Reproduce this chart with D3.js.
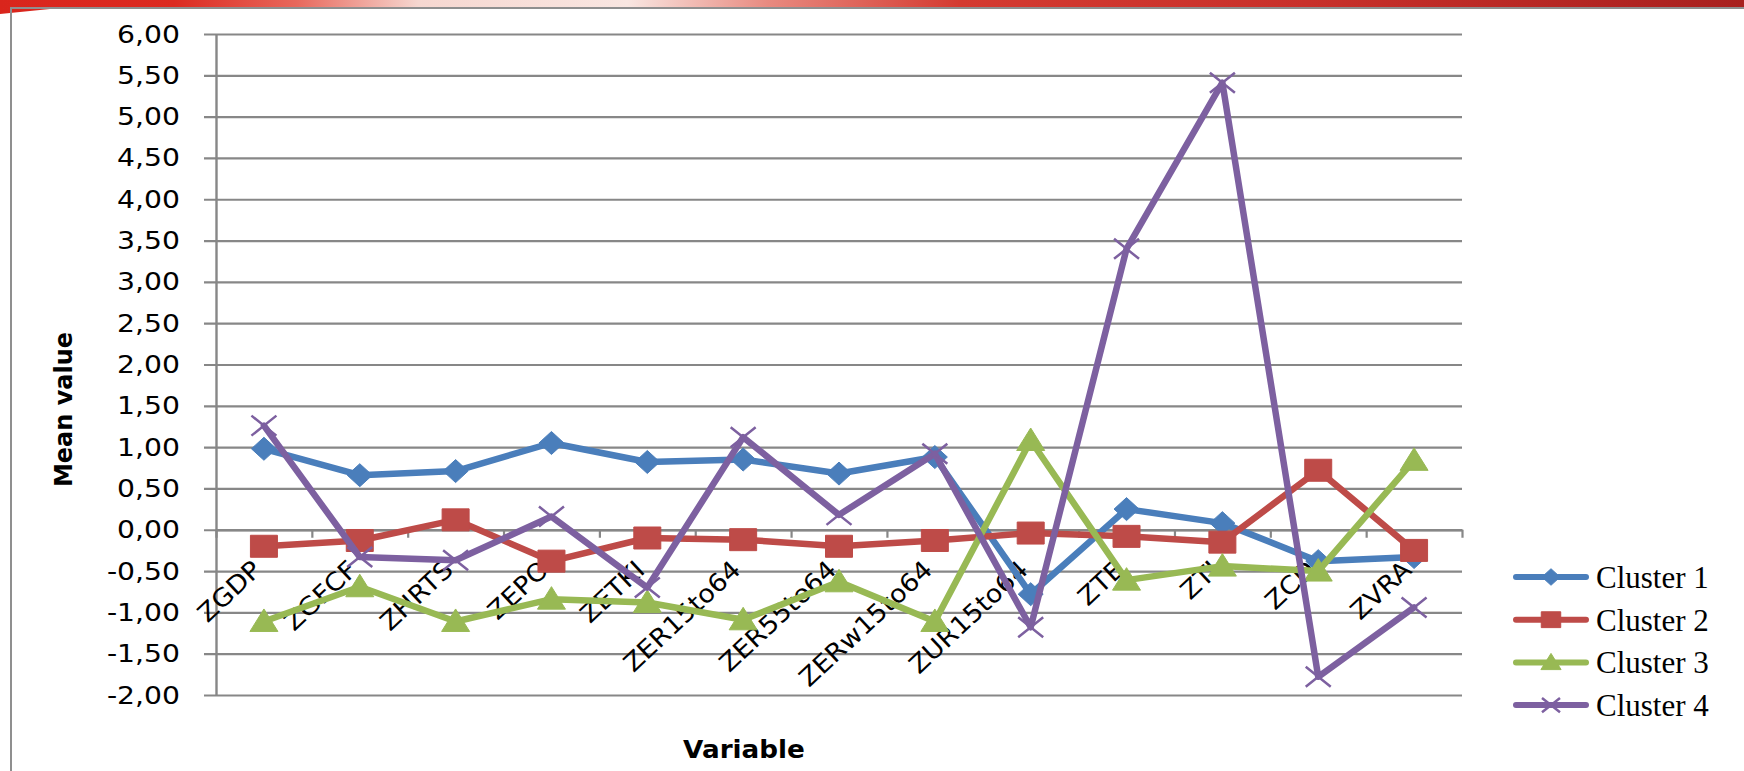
<!DOCTYPE html>
<html>
<head>
<meta charset="utf-8">
<script src="https://cdn.jsdelivr.net/npm/d3@7"></script>
<style>
  html, body { margin: 0; padding: 0; background: #ffffff; }
  svg { display: block; }
</style>
</head>
<body>
<svg id="chart" width="1744" height="771"></svg>
<script>
// Cluster means of standardised variables
const categories = ["ZGDP", "ZGFCF", "ZHRTS", "ZEPO", "ZETKI", "ZER15to64", "ZER55to64",
                    "ZERw15to64", "ZUR15to64", "ZTE", "ZTI", "ZCD", "ZVRA"];
const cluster1 = [0.98, 0.66, 0.71, 1.05, 0.82, 0.85, 0.68, 0.88, -0.78, 0.25, 0.08, -0.38, -0.33];
const cluster2 = [-0.20, -0.13, 0.12, -0.38, -0.10, -0.12, -0.20, -0.13, -0.04, -0.08, -0.15, 0.72, -0.25];
const cluster3 = [-1.11, -0.69, -1.11, -0.84, -0.88, -1.09, -0.63, -1.11, 1.08, -0.61, -0.44, -0.50, 0.84];
const cluster4 = [1.26, -0.33, -0.37, 0.16, -0.70, 1.12, 0.18, 0.92, -1.18, 3.40, 5.41, -1.78, -0.94];
const seriesNames = ["Cluster 1", "Cluster 2", "Cluster 3", "Cluster 4"];
const yTicks = [-2, -1.5, -1, -0.5, 0, 0.5, 1, 1.5, 2, 2.5, 3, 3.5, 4, 4.5, 5, 5.5, 6];

const series = [
  { name: seriesNames[0], values: cluster1, color: "#4A7EBB", marker: "diamond" },
  { name: seriesNames[1], values: cluster2, color: "#BE4B48", marker: "square" },
  { name: seriesNames[2], values: cluster3, color: "#98B954", marker: "triangle" },
  { name: seriesNames[3], values: cluster4, color: "#7D60A0", marker: "cross" }
];

const svg = d3.select("#chart");
const W = 1744;
const plotLeft = 216, plotRight = 1462, plotTop = 34, plotBottom = 695;
const gridColor = "#878787";

// widen glyphs of a text selection by a factor
function widen(sel, k) {
  sel.each(function () {
    const w = this.getComputedTextLength();
    this.setAttribute("textLength", (w * k).toFixed(1));
    this.setAttribute("lengthAdjust", "spacingAndGlyphs");
  });
}

// decorative banner and frame
const defs = svg.append("defs");
const grad = defs.append("linearGradient").attr("id", "banner").attr("x1", "0").attr("x2", "1");
[["0%", "#d9251c"], ["10%", "#dc2a20"], ["17%", "#e8685c"], ["24%", "#f6d7d0"],
 ["36%", "#f9e6e1"], ["44%", "#e88a80"], ["55%", "#d43a30"], ["75%", "#c8302a"],
 ["100%", "#a8201e"]].forEach(([o, c]) => grad.append("stop").attr("offset", o).attr("stop-color", c));
svg.append("path")
  .attr("d", `M0,0 L${W},0 L${W},9 L1200,7 L400,7 L60,8 L0,14 Z`)
  .attr("fill", "url(#banner)");
svg.append("path")
  .attr("d", `M11,${771} L11,8 L${W},8`)
  .attr("fill", "none").attr("stroke", "#8f8f8f").attr("stroke-width", 2);

// scales
const x = d3.scaleBand().domain(categories).range([plotLeft, plotRight]).padding(0);
const xEdge = d3.scaleLinear().domain([0, categories.length]).range([plotLeft, plotRight]);
const y = d3.scaleLinear().domain([-2, 6]).range([plotBottom, plotTop]);
const locale = d3.formatLocale({ decimal: ",", thousands: ".", grouping: [3], currency: ["", ""], minus: "-" });
const fmt = locale.format(".2f");

// horizontal gridlines (also serve as outer tick marks on the value axis)
const grid = svg.append("g").attr("transform", `translate(${plotRight},0)`)
  .call(d3.axisLeft(y).tickValues(yTicks).tickSize(plotRight - plotLeft + 12).tickFormat(""));
grid.select(".domain").remove();
grid.selectAll("line").attr("stroke", gridColor).attr("stroke-width", 2.2);

// value axis labels and line
const yAxis = svg.append("g").attr("transform", `translate(${plotLeft},0)`)
  .call(d3.axisLeft(y).tickValues(yTicks).tickSize(0).tickPadding(36).tickFormat(fmt));
yAxis.select(".domain").attr("stroke", gridColor).attr("stroke-width", 2.4);
yAxis.selectAll("text").attr("font-family", "DejaVu Sans").attr("font-size", 25).attr("fill", "#000")
  .call(widen, 1.13);

// category axis crossing at zero
const xAxis = svg.append("g").attr("transform", `translate(0,${y(0)})`)
  .call(d3.axisBottom(xEdge).tickValues(d3.range(categories.length + 1)).tickSize(8).tickFormat("").tickSizeOuter(0));
xAxis.select(".domain").attr("stroke", gridColor).attr("stroke-width", 2.4);
xAxis.selectAll("line").attr("stroke", gridColor).attr("stroke-width", 2.2);

// rotated category labels
svg.append("g").selectAll("text").data(categories).join("text")
  .attr("transform", d => `translate(${x(d) + x.bandwidth() / 2 - 1},${y(0) + 42}) rotate(-43)`)
  .attr("text-anchor", "end")
  .attr("font-family", "DejaVu Sans").attr("font-size", 25).attr("fill", "#000")
  .text(d => d)
  .call(widen, 1.07);

// axis titles
svg.append("text")
  .attr("transform", `translate(72,${(plotTop + plotBottom) / 2 + 45}) rotate(-90)`)
  .attr("text-anchor", "middle")
  .attr("font-family", "DejaVu Sans").attr("font-weight", "bold").attr("font-size", 24)
  .text("Mean value");
svg.append("text")
  .attr("x", 744).attr("y", 758)
  .attr("text-anchor", "middle")
  .attr("font-family", "DejaVu Sans").attr("font-weight", "bold").attr("font-size", 25)
  .text("Variable")
  .call(widen, 1.05);

// marker shapes
function markerPath(type, s) {
  const k = s || 1;
  switch (type) {
    case "diamond": return `M0,${-11.5 * k} L${12.5 * k},0 L0,${11.5 * k} L${-12.5 * k},0 Z`;
    case "square": return `M${-13.5 * k},${-11 * k} H${13.5 * k} V${11 * k} H${-13.5 * k} Z`;
    case "triangle": return `M0,${-12.5 * k} L${14 * k},${10 * k} L${-14 * k},${10 * k} Z`;
    case "cross": return `M${-12.5 * k},${-10 * k} L${12.5 * k},${10 * k} M${12.5 * k},${-10 * k} L${-12.5 * k},${10 * k}`;
  }
}

const line = d3.line()
  .x((d, i) => x(categories[i]) + x.bandwidth() / 2)
  .y(d => y(d));

const plot = svg.append("g");
series.forEach(s => {
  const g = plot.append("g");
  g.append("path")
    .attr("d", line(s.values))
    .attr("fill", "none").attr("stroke", s.color).attr("stroke-width", 6.5)
    .attr("stroke-linejoin", "round").attr("stroke-linecap", "round");
  g.selectAll("path.m").data(s.values).join("path").attr("class", "m")
    .attr("transform", (d, i) => `translate(${x(categories[i]) + x.bandwidth() / 2},${y(d)})`)
    .attr("d", markerPath(s.marker))
    .attr("fill", s.marker === "cross" ? "none" : s.color)
    .attr("stroke", s.color)
    .attr("stroke-width", s.marker === "cross" ? 2.5 : 1);
});

// legend
const legend = svg.append("g");
series.forEach((s, i) => {
  const cy = 577 + i * 42.7;
  legend.append("line")
    .attr("x1", 1516).attr("x2", 1586).attr("y1", cy).attr("y2", cy)
    .attr("stroke", s.color).attr("stroke-width", 6).attr("stroke-linecap", "round");
  legend.append("path")
    .attr("transform", `translate(1551,${cy})`)
    .attr("d", markerPath(s.marker, 0.72))
    .attr("fill", s.marker === "cross" ? "none" : s.color)
    .attr("stroke", s.color)
    .attr("stroke-width", s.marker === "cross" ? 2.5 : 1);
  legend.append("text")
    .attr("x", 1596).attr("y", cy + 11)
    .attr("font-family", "Liberation Serif").attr("font-size", 31).attr("fill", "#000")
    .text(s.name);
});
</script>
</body>
</html>
